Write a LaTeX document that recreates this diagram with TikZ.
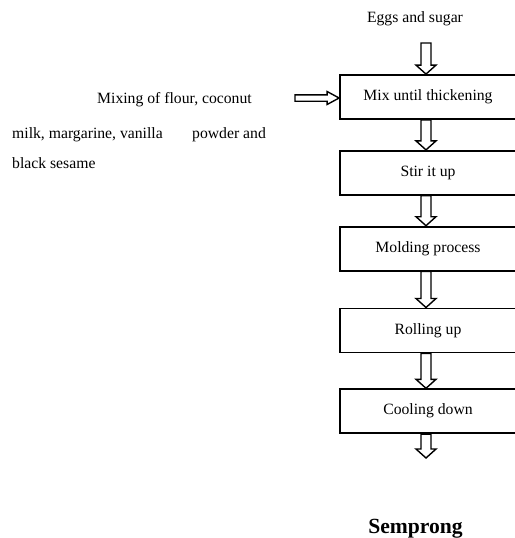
\documentclass[tikz,border=0pt]{standalone}
\usepackage{fontspec}
\setmainfont{Liberation Serif}
\usetikzlibrary{positioning,calc}

\begin{document}
\begin{tikzpicture}
 [
  x=1pt, y=-1pt,
  font=\fontsize{15.7}{18}\selectfont,
  stepbox/.style={rectangle, draw, line width=1.8pt, minimum width=176pt, minimum height=44pt, inner sep=0pt},
  label/.style={inner sep=0pt},
  down arrow/.style={line width=1.4pt, line join=miter,
    to path={let \p1=(\tikztostart), \p2=(\tikztotarget) in
      (\x1-5pt,\y1) -- (\x1-5pt,\y2+9pt) -- (\x1-10pt,\y2+9pt) -- (\x1,\y2)
      -- (\x1+10pt,\y2+9pt) -- (\x1+5pt,\y2+9pt) -- (\x1+5pt,\y1) -- cycle}},
  right arrow/.style={line width=1.4pt, line join=miter,
    to path={let \p1=(\tikztostart), \p2=(\tikztotarget) in
      (\x1,\y2+3.2pt) -- (\x2-12pt,\y2+3.2pt) -- (\x2-12pt,\y2+6.5pt) -- (\x2,\y2)
      -- (\x2-12pt,\y2-6.5pt) -- (\x2-12pt,\y2-3.2pt) -- (\x1,\y2-3.2pt) -- cycle}},
 ]
  \useasboundingbox (0,0) rectangle (514,538);

  % process steps
  \node [stepbox] (mix) at (428,97) {Mix until thickening};
  \node [stepbox, below=30pt of mix] (stir) {Stir it up};
  \node [stepbox, below=30pt of stir] (mold) {Molding process};
  \node [stepbox, below=36pt of mold] (roll) {Rolling up};
  \node [stepbox, below=35pt of roll] (cool) {Cooling down};

  % inputs and product
  \node [label, anchor=base] (eggs) at (415,22.7) {Eggs and sugar};
  \node [label, anchor=base west] (flour1) at (97,103.3) {Mixing of flour, coconut};
  \node [label, anchor=base west] (flour2) at (12,138) {milk, margarine, vanilla};
  \node [label, anchor=base west] (flour3) at (192,138) {powder and};
  \node [label, anchor=base west] (flour4) at (12,168) {black sesame};
  \node [label, anchor=base, font=\fontsize{21.6}{24}\selectfont\bfseries] (semprong) at (415.5,533) {Semprong};

  \coordinate (eggsin) at (426,43);
  \coordinate (flourin) at (295,98);
  \coordinate (coolout) at (426,458);

  % hollow arrows
  \draw [down arrow] (eggsin) to (eggsin |- mix.north);
  \draw [right arrow] (flourin) to (flourin -| mix.west);
  \draw [down arrow] (eggsin |- mix.south) to (eggsin |- stir.north);
  \draw [down arrow] (eggsin |- stir.south) to (eggsin |- mold.north);
  \draw [down arrow] (eggsin |- mold.south) to (eggsin |- roll.north);
  \draw [down arrow] (eggsin |- roll.south) to (eggsin |- cool.north);
  \draw [down arrow] (eggsin |- cool.south) to (coolout);
\end{tikzpicture}
\end{document}
